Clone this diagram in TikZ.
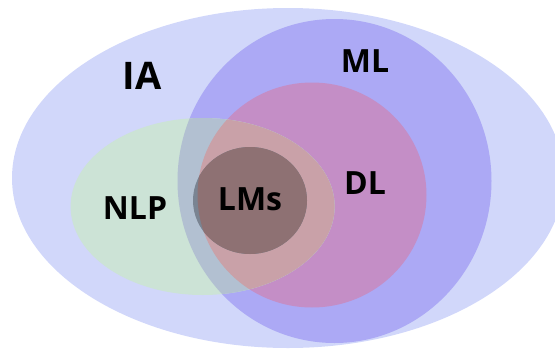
\documentclass[tikz,border=0pt]{standalone}
\usepackage{fontspec}
\setmainfont{Open Sans}
\definecolor{iaC}{HTML}{D1D7FA}
\definecolor{mlC}{HTML}{ACA9F5}
\definecolor{dlC}{HTML}{C48EC6}
\definecolor{nlpOut}{HTML}{CCE3D6}
\definecolor{nlpMl}{HTML}{B2C0D1}
\definecolor{nlpDl}{HTML}{C9A1A8}
\definecolor{lmDl}{HTML}{8E7173}
\definecolor{lmMl}{HTML}{7A8492}
\tikzset{
  setlabel/.style={font=\bfseries\fontsize{32}{36}\selectfont, text=black, inner sep=0pt},
}
\begin{document}
\begin{tikzpicture}[x=1pt,y=-1pt]
\useasboundingbox (0,0) rectangle (555,349);
\clip (0,0) rectangle (555,349);
% outer set: IA
\fill[iaC] (288,178) ellipse [x radius=276, y radius=170];
% ML
\fill[mlC] (334.5,181) ellipse [x radius=157, y radius=162];
% DL
\fill[dlC] (312,195) ellipse [x radius=114.5, y radius=112.5];
% NLP, tinted where it overlaps ML and DL
\fill[nlpOut] (202.6,206.5) ellipse [x radius=132, y radius=88.5];
\begin{scope}
  \clip (334.5,181) ellipse [x radius=157, y radius=162];
  \fill[nlpMl] (202.6,206.5) ellipse [x radius=132, y radius=88.5];
  \clip (312,195) ellipse [x radius=114.5, y radius=112.5];
  \fill[nlpDl] (202.6,206.5) ellipse [x radius=132, y radius=88.5];
\end{scope}
% LMs
\fill[lmMl] (250,200.5) ellipse [x radius=57, y radius=53.5];
\begin{scope}
  \clip (312,195) ellipse [x radius=114.5, y radius=112.5];
  \fill[lmDl] (250,200.5) ellipse [x radius=57, y radius=53.5];
\end{scope}
% labels
\node[setlabel, font=\bfseries\fontsize{38}{42}\selectfont] (ia) at (142,76) {IA};
\node[setlabel] (ml) at (365,61) {ML};
\node[setlabel] (nlp) at (135,208) {NLP};
\node[setlabel] (lms) at (250,199) {LMs};
\node[setlabel] (dl) at (365,183) {DL};
\end{tikzpicture}
\end{document}
